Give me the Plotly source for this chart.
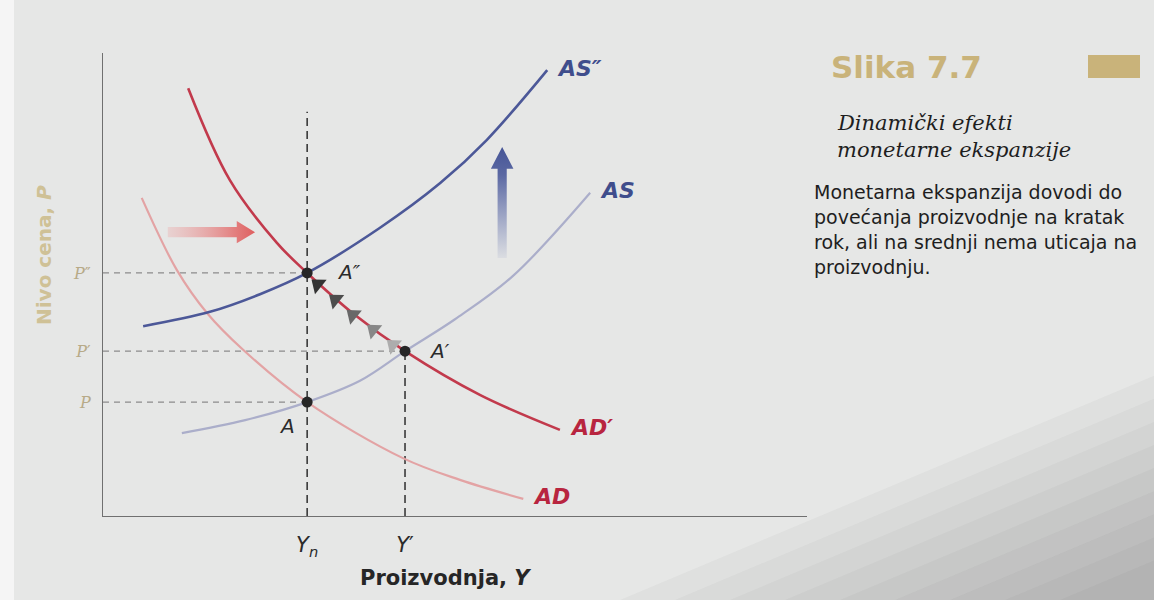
import plotly.graph_objects as go

# Equilibrium points on the output / price plane
point_names = ["A", "A′", "A″"]
point_y = [2.90, 4.29, 2.90]
point_p = [2.46, 3.56, 5.25]

# Aggregate demand before (AD) and after (AD') the monetary expansion
ad_y = [0.55, 1.05, 1.48, 1.99, 2.90, 4.26, 5.07, 5.97]
ad_p = [6.87, 5.31, 4.38, 3.59, 2.46, 1.25, 0.78, 0.37]
ad2_y = [1.21, 1.80, 2.47, 2.90, 3.58, 4.29, 5.36, 6.49]
ad2_p = [9.24, 7.26, 5.90, 5.25, 4.34, 3.56, 2.61, 1.86]

# Aggregate supply: initial (AS) and final (AS'')
as_y = [1.12, 2.02, 2.90, 3.65, 4.29, 5.00, 5.82, 6.92]
as_p = [1.79, 2.07, 2.46, 2.92, 3.56, 4.25, 5.18, 6.98]
as2_y = [0.57, 1.52, 2.23, 2.90, 3.93, 4.79, 5.45, 6.31]
as2_p = [4.10, 4.41, 4.79, 5.25, 6.22, 7.19, 8.12, 9.63]

# Adjustment path from A' back to A'' (small arrowheads along AD')
path_y = [3.05, 3.30, 3.55, 3.84, 4.12]
path_p = [5.00, 4.67, 4.34, 4.02, 3.69]
path_colors = ["#333333", "#4d4d4d", "#686868", "#878787", "#adadad"]

# Shift arrows: AD to the right, AS upwards
ad_shift_y = [0.92, 2.16]
ad_shift_p = 6.13
as_shift_y = 5.67
as_shift_p = [5.57, 7.97]

yn_top = 8.73

x_ticks = [2.90, 4.29]
x_ticktext = ["<i>Y<sub>n</sub></i>", "<i>Y</i>′"]
y_ticks = [2.46, 3.56, 5.25]
y_ticktext = ["<i>P</i>", "<i>P</i>′", "<i>P</i>″"]

# plot area in pixels (used to place the side text)
L, R, T, B = 103, 807, 53, 516


def px(x, y):
    return (x - L) / (R - L), (B - y) / (B - T)


fig = go.Figure()

# dashed guide lines
hx, hy = [], []
for yv, pv in zip(point_y, point_p):
    hx += [0, yv, None]
    hy += [pv, pv, None]
fig.add_trace(go.Scatter(x=hx, y=hy, mode="lines",
                         line=dict(color="#8c8c8c", width=1.2, dash="6px,5px"),
                         hoverinfo="skip"))
fig.add_trace(go.Scatter(x=[point_y[0], point_y[0], None, point_y[1], point_y[1]],
                         y=[0, yn_top, None, 0, point_p[1]], mode="lines",
                         line=dict(color="#3a3a3a", width=1.6, dash="8px,5px"),
                         hoverinfo="skip"))

# curves
fig.add_trace(go.Scatter(x=ad_y, y=ad_p, mode="lines", line_shape="spline",
                         line=dict(color="#e3a3a4", width=2.2), name="AD"))
fig.add_trace(go.Scatter(x=as_y, y=as_p, mode="lines", line_shape="spline",
                         line=dict(color="#abaeca", width=2.2), name="AS"))
fig.add_trace(go.Scatter(x=as2_y, y=as2_p, mode="lines", line_shape="spline",
                         line=dict(color="#4c5898", width=2.6), name="AS″"))
fig.add_trace(go.Scatter(x=ad2_y, y=ad2_p, mode="lines", line_shape="spline",
                         line=dict(color="#c23a4c", width=2.6), name="AD′"))

# red shift arrow (horizontal, gradient)
x0, x1 = ad_shift_y
hs, hl, hh = 0.11, 0.26, 0.24
fig.add_trace(go.Scatter(
    x=[x0, x1 - hl, x1 - hl, x1, x1 - hl, x1 - hl, x0, x0],
    y=[ad_shift_p - hs, ad_shift_p - hs, ad_shift_p - hh, ad_shift_p,
       ad_shift_p + hh, ad_shift_p + hs, ad_shift_p + hs, ad_shift_p - hs],
    mode="lines", fill="toself", line=dict(width=0),
    fillgradient=dict(type="horizontal",
                      colorscale=[[0, "rgba(236,170,170,0.35)"], [0.8, "rgba(226,110,110,0.9)"],
                                  [1, "rgba(222,95,95,1)"]]),
    hoverinfo="skip"))

# blue shift arrow (vertical, gradient)
y0, y1 = as_shift_p
ws, wl, wh = 0.065, 0.47, 0.16
fig.add_trace(go.Scatter(
    x=[as_shift_y - ws, as_shift_y - ws, as_shift_y - wh, as_shift_y,
       as_shift_y + wh, as_shift_y + ws, as_shift_y + ws, as_shift_y - ws],
    y=[y0, y1 - wl, y1 - wl, y1, y1 - wl, y1 - wl, y0, y0],
    mode="lines", fill="toself", line=dict(width=0),
    fillgradient=dict(type="vertical",
                      colorscale=[[0, "rgba(90,105,170,0.08)"], [0.75, "rgba(75,90,155,0.9)"],
                                  [1, "rgba(70,85,150,1)"]]),
    hoverinfo="skip"))

# adjustment arrowheads
fig.add_trace(go.Scatter(x=path_y, y=path_p, mode="markers",
                         marker=dict(symbol="triangle-up", size=16, angle=-51,
                                     color=path_colors, line=dict(width=0)),
                         hoverinfo="skip"))

# equilibrium points
fig.add_trace(go.Scatter(x=point_y, y=point_p, mode="markers",
                         marker=dict(size=11, color="#262626"), hoverinfo="skip"))

ann = []
lab_font = dict(family="DejaVu Sans", size=20, color="#2b2b2b")
offsets = [(-20, -24), (34, 0), (42, 1)]
for name, yv, pv, (dx, dy) in zip(point_names, point_y, point_p, offsets):
    ann.append(dict(x=yv, y=pv, text=f"<i>{name}</i>", showarrow=False,
                    xshift=dx, yshift=dy, font=lab_font))

curve_labels = [("AS″", as2_y, as2_p, "#3f4d8c"), ("AS", as_y, as_p, "#3f4d8c"),
                ("AD′", ad2_y, ad2_p, "#b8253f"), ("AD", ad_y, ad_p, "#b8253f")]
for text, xs, ys, col in curve_labels:
    ann.append(dict(x=xs[-1], y=ys[-1], text=f"<b><i>{text}</i></b>", showarrow=False,
                    xanchor="left", xshift=8, yshift=2,
                    font=dict(family="DejaVu Sans", size=22, color=col)))


def paper_text(x, y, text, font, xanchor="center", angle=0):
    xt, yt = px(x, y)
    return dict(x=xt, y=yt, xref="paper", yref="paper", showarrow=False,
                xanchor=xanchor, yanchor="middle", textangle=angle, text=text, font=font)


# axis titles
ann.append(paper_text(445, 578, "<b>Proizvodnja, <i>Y</i></b>",
                      dict(family="DejaVu Sans", size=21, color="#262626")))
ann.append(paper_text(44, 255, "<b>Nivo cena, <i>P</i></b>",
                      dict(family="DejaVu Sans", size=20, color="#cfc196"), angle=-90))

# side panel
ann.append(paper_text(829, 67, "<b>Slika 7.7</b>",
                      dict(family="DejaVu Sans", size=31, color="#c9b37a"), "left"))
for i, line in enumerate(["Dinamički efekti", "monetarne ekspanzije"]):
    ann.append(paper_text(835, 123 + 27 * i, f"<i>{line}</i>",
                          dict(family="DejaVu Serif", size=21, color="#1e1e1e"), "left"))
body = ["Monetarna ekspanzija dovodi do", "povećanja proizvodnje na kratak",
        "rok, ali na srednji nema uticaja na", "proizvodnju."]
for i, line in enumerate(body):
    ann.append(paper_text(812, 192 + 25 * i, line,
                          dict(family="DejaVu Sans", size=19, color="#1e1e1e"), "left"))

shapes = []
a0, b0 = px(1088, 55)
a1, b1 = px(1140, 78)
shapes.append(dict(type="rect", xref="paper", yref="paper", x0=a0, y0=b0, x1=a1, y1=b1,
                   fillcolor="#c9b37a", line=dict(width=0)))
# page edge on the left and shadow at the bottom right of the photo
a0, b0 = px(0, 0)
a1, b1 = px(14, 600)
shapes.append(dict(type="rect", xref="paper", yref="paper", x0=a0, y0=b0, x1=a1, y1=b1,
                   fillcolor="rgba(255,255,255,0.6)", line=dict(width=0), layer="below"))
for k in range(9):
    sx = 620 + 55 * k
    p1 = px(sx, 600)
    p2 = px(1154, 600 - (1154 - sx) * 0.42)
    p3 = px(1154, 600)
    shapes.append(dict(type="path", xref="paper", yref="paper", layer="below",
                       path=f"M {p1[0]},{p1[1]} L {p2[0]},{p2[1]} L {p3[0]},{p3[1]} Z",
                       fillcolor="rgba(60,60,60,0.035)", line=dict(width=0)))

fig.update_layout(
    width=1154, height=600,
    margin=dict(l=L, r=1154 - R, t=T, b=600 - B),
    paper_bgcolor="#e6e7e6", plot_bgcolor="rgba(0,0,0,0)",
    showlegend=False,
    annotations=ann, shapes=shapes,
    xaxis=dict(range=[0, 10], showgrid=False, zeroline=False, showline=True,
               linecolor="#707070", linewidth=1.3, tickvals=x_ticks, ticktext=x_ticktext,
               ticks="", ticklabelstandoff=10,
               tickfont=dict(family="DejaVu Sans", size=21, color="#2b2b2b")),
    yaxis=dict(range=[0, 10], showgrid=False, zeroline=False, showline=True,
               linecolor="#707070", linewidth=1.3, tickvals=y_ticks, ticktext=y_ticktext,
               ticks="", ticklabelstandoff=8,
               tickfont=dict(family="DejaVu Serif", size=16, color="#b7aa88")),
)

fig.write_html("out.html", config={"displayModeBar": False},
               post_script="document.body.style.margin = '0';")
